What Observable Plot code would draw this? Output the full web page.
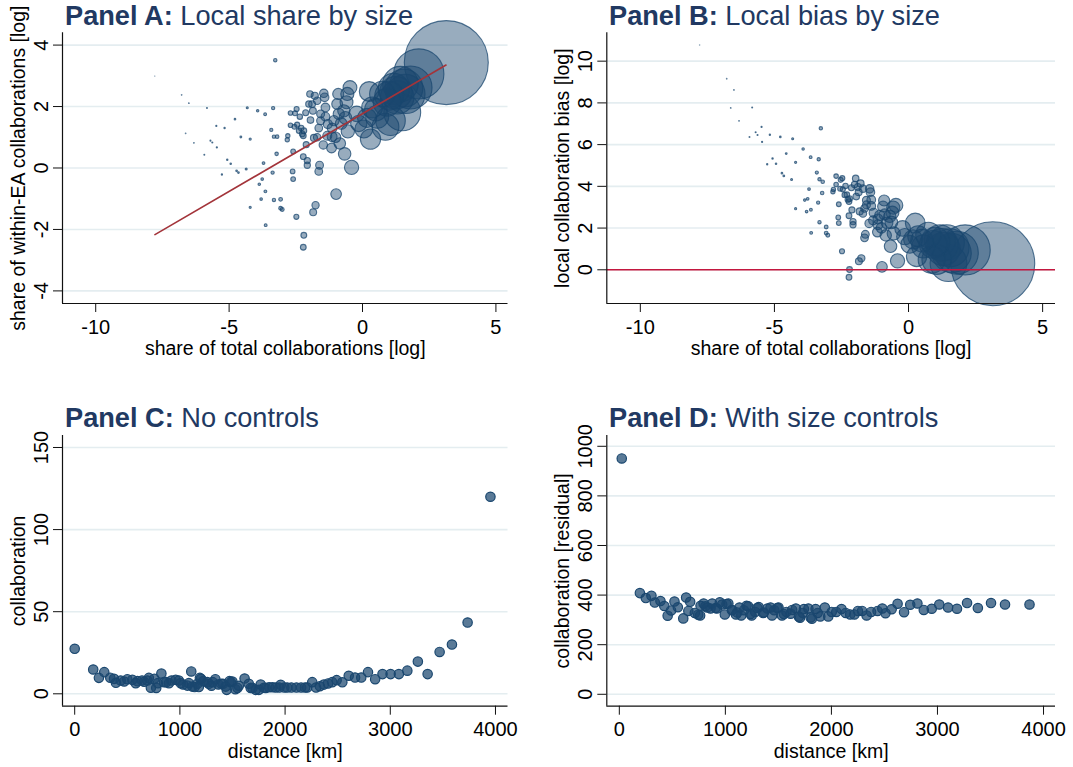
<!DOCTYPE html>
<html>
<head>
<meta charset="utf-8">
<script src="https://cdn.jsdelivr.net/npm/d3@7"></script>
<script src="https://cdn.jsdelivr.net/npm/@observablehq/plot@0.6"></script>
<style>
html, body { margin: 0; padding: 0; background: #fff; }
#root { position: relative; width: 1073px; height: 767px; overflow: hidden; background: #fff; }
.panel { position: absolute; }
</style>
</head>
<body>
<div id="root"></div>
<script>
// ---------------- DATA ----------------
// Panels A & B: share of total collaborations [log] (x), share of within-EA collaborations [log] (A), local collaboration bias [log] (B)
const shareLog = [-7.79,-6.78,-6.51,-6.63,-6.32,-5.83,-5.93,-5.70,-5.63,-5.48,
  -5.46,-5.17,-5.07,-4.94,-5.27,-4.78,-4.72,-4.65,-4.56,-4.36,
  -4.32,-4.21,-4.21,-3.93,-3.65,-3.71,-3.76,-3.87,-3.64,-3.80,
  -3.63,-3.35,-3.27,-3.42,-3.32,-3.20,-3.22,-3.37,-3.32,-3.07,
  -3.07,-3.01,-2.80,-2.82,-2.60,-2.62,-2.60,-2.48,-2.20,-2.22,
  -2.22,-2.07,-2.07,-1.76,-1.85,-1.61,-1.64,-0.99,-0.41,-0.67,
  -0.85,-1.16,-1.47,-1.82,-1.70,-2.11,-2.26,-2.38,-2.70,-2.53,
  -2.47,-2.70,-2.55,-2.35,-2.45,-2.30,-2.20,-2.22,-2.13,-1.97,
  -1.79,-2.01,-1.89,-1.86,-1.95,-1.70,-1.45,-1.42,-1.57,-1.57,
  -1.64,-1.39,-1.39,-1.30,-1.14,-1.07,-1.32,-1.14,-1.01,-0.91,
  -0.95,-0.89,-0.80,-0.57,-0.47,-0.60,-0.70,-0.64,-0.55,-0.22,
  -0.14,0.05,0.25,0.30,0.17,0.36,0.55,0.86,1.05,0.74,
  0.92,1.49,1.17,1.42,1.61,1.80,2.11,3.14,
  1.30,1.00,1.55,1.25,0.50];
const withinLog = [2.99,2.38,2.11,1.13,0.82,1.95,0.43,0.89,0.83,1.37,
  0.67,1.30,0.27,0.14,-0.21,1.59,-0.09,-0.15,1.01,-0.03,
  1.96,0.94,-1.28,1.86,1.75,0.16,-0.36,-0.53,-0.76,-1.01,
  -1.86,1.95,3.51,1.24,1.02,1.02,0.46,-0.15,-1.04,-1.02,
  -1.31,-1.35,1.05,0.92,0.54,-0.11,-0.36,-1.59,-2.19,-2.58,
  0.37,0.24,0.09,-1.21,-1.44,0.09,-0.11,-0.85,0.02,0.46,
  0.80,0.65,0.75,0.98,1.00,0.76,1.11,1.21,1.79,1.78,
  1.92,1.39,1.34,1.67,1.41,1.30,1.21,1.05,1.80,2.41,
  2.35,2.08,2.08,1.86,1.56,2.19,2.43,2.30,1.76,1.54,
  1.30,1.97,1.67,1.43,1.30,1.54,1.05,1.02,1.00,2.41,
  2.08,1.76,1.45,2.41,2.62,2.14,1.86,1.63,1.19,1.76,
  1.45,1.27,2.49,0.94,1.63,1.97,1.67,1.34,1.54,2.41,
  2.14,1.81,2.57,2.73,2.41,2.62,3.06,3.43,
  2.30,2.35,2.60,2.45,1.90];
const biasLog = [10.78,9.16,8.62,7.76,7.14,7.78,6.36,6.59,6.46,6.85,
  6.13,6.47,5.34,5.08,5.06,6.37,4.63,4.50,5.57,4.33,
  6.28,5.15,2.93,5.79,5.40,3.87,3.40,3.34,2.88,2.79,
  1.77,5.30,6.78,4.66,4.34,4.22,3.68,3.22,2.28,2.05,
  1.76,1.66,3.85,3.74,3.14,2.51,2.24,0.89,0.01,-0.36,
  2.59,2.31,2.16,0.55,0.41,1.70,1.53,0.14,0.43,1.13,
  1.65,1.81,2.22,2.80,2.70,2.87,3.37,3.59,4.49,4.31,
  4.39,4.09,3.89,4.02,3.86,3.60,3.41,3.27,3.93,4.38,
  4.14,4.09,3.97,3.72,3.51,3.89,3.88,3.72,3.33,3.11,
  2.94,3.36,3.06,2.73,2.44,2.61,2.37,2.16,2.01,3.32,
  3.03,2.65,2.25,2.98,3.09,2.74,2.56,2.27,1.74,1.98,
  1.59,1.22,2.24,0.64,1.46,1.61,1.12,0.48,0.49,1.67,
  1.22,0.32,1.40,1.31,0.80,0.82,0.95,0.29,
  1.00,1.35,1.05,1.20,1.40];
// Panel A fitted line end points
const fitX = [-7.78, 3.13];
const fitY = [-2.17, 3.35];

// Panel C: distance [km] vs collaboration
const distanceC = [0,176,230,281,338,374,392,437,470,500,
  548,580,596,640,660,691,705,724,757,775,
  790,824,849,869,896,920,960,990,1008,1030,
  1071,1085,1108,1119,1140,1166,1180,1190,1200,1222,
  1261,1275,1300,1312,1337,1366,1392,1410,1435,1445,
  1472,1485,1499,1527,1547,1560,1615,1655,1673,1690,
  1721,1751,1768,1799,1816,1848,1880,1911,1945,1958,
  1992,2020,2060,2108,2152,2190,2210,2258,2294,2330,
  2368,2408,2448,2490,2544,2605,2665,2724,2788,2856,
  2926,3003,3082,3162,3262,3355,3469,3586,3735,3952];
const collabC = [27.4,14.8,9.7,13.2,9.8,9.1,6.7,8.1,7.5,8.9,
  8.5,6.5,7.7,8.1,7.3,8.1,9.7,3.7,9.1,3.6,
  6.5,12.3,7.1,7.1,6.5,8.1,8.5,8.1,6.5,5.7,
  5.0,6.5,13.6,4.4,4.1,6.1,4.1,9.7,9.1,7.7,
  7.1,6.1,4.9,7.1,8.9,5.7,6.1,6.1,4.4,2.4,
  7.7,7.1,7.5,2.8,3.6,4.9,9.3,6.1,3.6,3.5,
  2.4,2.4,5.6,3.7,3.6,4.0,4.0,3.8,3.8,5.5,
  3.8,3.8,3.8,3.8,3.8,3.8,3.8,7.1,3.8,4.6,
  5.6,6.3,7.1,8.3,7.0,11.0,9.9,9.9,13.2,8.9,
  12.0,12.0,12.0,14.1,19.6,12.0,25.5,30.0,43.4,120.0];

// Panel D: distance [km] vs collaboration [residual]
const distanceD = [23,194,250,303,335,388,424,456,488,520,
  552,603,630,651,668,712,744,762,766,795,
  812,829,860,876,908,920,948,970,995,1011,
  1028,1061,1065,1100,1112,1133,1149,1175,1200,1215,
  1238,1248,1281,1301,1314,1356,1363,1396,1426,1440,
  1461,1490,1501,1534,1552,1576,1615,1630,1665,1693,
  1704,1731,1741,1783,1804,1816,1851,1870,1895,1938,
  1970,2003,2046,2095,2135,2177,2217,2250,2289,2332,
  2374,2435,2480,2510,2568,2624,2685,2743,2811,2871,
  2946,3017,3100,3184,3279,3381,3505,3637,3868];
const residD = [951,408,388,397,370,376,356,317,338,374,
  351,306,390,336,373,328,321,318,357,366,
  355,350,346,366,348,346,371,362,322,364,
  366,339,340,322,330,350,318,339,357,355,
  324,318,332,348,352,328,330,346,350,318,
  339,348,350,318,324,332,325,340,346,313,
  309,328,344,346,310,305,344,328,314,350,
  314,332,332,344,328,322,322,336,336,318,
  332,336,346,327,343,365,331,361,366,340,
  345,362,350,345,368,348,368,362,362];

// Tick values
const xTicksAB = [-10, -5, 0, 5];
const yTicksA = [-4, -2, 0, 2, 4];
const yTicksB = [0, 2, 4, 6, 8, 10];
const xTicksCD = [0, 1000, 2000, 3000, 4000];
const yTicksC = [0, 50, 100, 150];
const yTicksD = [0, 200, 400, 600, 800, 1000];

// Texts
const titleBold = ["Panel A:", "Panel B:", "Panel C:", "Panel D:"];
const titleRest = ["Local share by size", "Local bias by size", "No controls", "With size controls"];
const xLabels = ["share of total collaborations [log]", "share of total collaborations [log]", "distance [km]", "distance [km]"];
const yLabels = ["share of within-EA collaborations [log]", "local collaboration bias [log]", "collaboration", "collaboration [residual]"];

// ---------------- STYLE ----------------
const FONT = '"Liberation Sans", Arial, Helvetica, sans-serif';
const NAVY = "#1a476f";
const GRID = "#e4edf0";
const AXIS = "#111";
const TITLE = "#213962";

const tableAB = shareLog.map((s, i) => ({share: s, within: withinLog[i], bias: biasLog[i], weight: Math.exp(s)}));
const fitTable = fitX.map((x, i) => ({x, y: fitY[i]}));
const tableC = distanceC.map((d, i) => ({d, v: collabC[i]}));
const tableD = distanceD.map((d, i) => ({d, v: residD[i]}));
const maxWeight = d3.max(tableAB, d => d.weight);

const root = document.getElementById("root");

function panel(cfg) {
  const chart = Plot.plot({
    width: cfg.width, height: cfg.height,
    marginLeft: cfg.ml, marginRight: cfg.mr, marginTop: cfg.mt, marginBottom: cfg.mb,
    style: {fontFamily: FONT, fontSize: "20px", color: "#000", background: "transparent", overflow: "visible"},
    x: {domain: cfg.xDomain},
    y: {domain: cfg.yDomain},
    r: {type: "sqrt", domain: [0, maxWeight], range: [0, 42]},
    marks: [
      Plot.gridY(cfg.yTicks, {stroke: GRID, strokeOpacity: 1, strokeWidth: 1.6}),
      ...cfg.marks,
      Plot.ruleX([cfg.xDomain[0]], {stroke: AXIS, strokeWidth: 1.2}),
      Plot.ruleY([cfg.yDomain[0]], {stroke: AXIS, strokeWidth: 1.2}),
      Plot.axisX({ticks: cfg.xTicks, tickSize: 9, tickPadding: 6.8, fontSize: 20, label: null, stroke: AXIS, tickFormat: d => String(d)}),
      Plot.axisY({ticks: cfg.yTicks, tickSize: 9, tickPadding: 5.8, fontSize: 20, tickRotate: -90, textAnchor: "middle", lineAnchor: "bottom", label: null, stroke: AXIS, tickFormat: d => String(d)}),
      Plot.text([cfg.xLabel], {text: d => d, frameAnchor: "bottom", dy: 51.5, lineAnchor: "bottom", fontSize: 19.5, fill: "#000"}),
      Plot.text([cfg.yLabel], {text: d => d, frameAnchor: "left", rotate: -90, dx: -38, lineAnchor: "bottom", textAnchor: "middle", fontSize: 19.5, fill: "#000"})
    ]
  });
  const div = document.createElement("div");
  div.className = "panel";
  div.style.left = cfg.left + "px";
  div.style.top = cfg.top + "px";
  div.style.width = cfg.width + "px";
  div.style.height = cfg.height + "px";
  div.appendChild(chart);
  root.appendChild(div);
}

const bubbleStyle = {fill: NAVY, fillOpacity: 0.45, stroke: NAVY, strokeOpacity: 0.75, strokeWidth: 1.1};
const dotStyle = {r: 4.7, fill: NAVY, fillOpacity: 0.72, stroke: NAVY, strokeWidth: 1.2};

// Panel A
panel({
  left: 0, top: 0, width: 530, height: 370, ml: 62, mr: 22.5, mt: 32.3, mb: 67,
  xDomain: [-11.245, 5.453], yDomain: [-4.41, 4.40],
  xTicks: xTicksAB, yTicks: yTicksA, xLabel: xLabels[0], yLabel: yLabels[0],
  marks: [
    Plot.dot(tableAB, {x: "share", y: "within", r: "weight", ...bubbleStyle}),
    Plot.line(fitTable, {x: "x", y: "y", stroke: "#a3343a", strokeWidth: 1.6})
  ]
});

// Panel B
panel({
  left: 530, top: 0, width: 543, height: 370, ml: 76.3, mr: 18, mt: 32.3, mb: 67,
  xDomain: [-11.25, 5.48], yDomain: [-1.616, 11.36],
  xTicks: xTicksAB, yTicks: yTicksB, xLabel: xLabels[1], yLabel: yLabels[1],
  marks: [
    Plot.dot(tableAB, {x: "share", y: "bias", r: "weight", ...bubbleStyle}),
    Plot.ruleY([0], {stroke: "#c3173f", strokeWidth: 1.6})
  ]
});

// Panel C
panel({
  left: 0, top: 390, width: 530, height: 377, ml: 62, mr: 22.5, mt: 45, mb: 61.3,
  xDomain: [-116, 4119], yDomain: [-7.55, 157.3],
  xTicks: xTicksCD, yTicks: yTicksC, xLabel: xLabels[2], yLabel: yLabels[2],
  marks: [
    Plot.dot(tableC, {x: "d", y: "v", ...dotStyle})
  ]
});

// Panel D
panel({
  left: 530, top: 390, width: 543, height: 377, ml: 76.3, mr: 18, mt: 45, mb: 61.3,
  xDomain: [-118, 4113], yDomain: [-48, 1043.5],
  xTicks: xTicksCD, yTicks: yTicksD, xLabel: xLabels[3], yLabel: yLabels[3],
  marks: [
    Plot.dot(tableD, {x: "d", y: "v", ...dotStyle})
  ]
});

// Panel titles
const overlay = d3.select(root).append("svg")
  .attr("width", 1073).attr("height", 767)
  .style("position", "absolute").style("left", "0px").style("top", "0px")
  .style("pointer-events", "none").style("overflow", "visible");
const titlePos = [[65, 25], [609, 25], [65, 426.5], [609, 426.5]];
titleBold.forEach((b, i) => {
  const t = overlay.append("text")
    .attr("x", titlePos[i][0]).attr("y", titlePos[i][1])
    .attr("font-family", FONT).attr("font-size", 27.2).attr("fill", TITLE);
  t.append("tspan").attr("font-weight", "bold").text(b);
  t.append("tspan").text("\u00a0" + titleRest[i]);
});
</script>
</body>
</html>
